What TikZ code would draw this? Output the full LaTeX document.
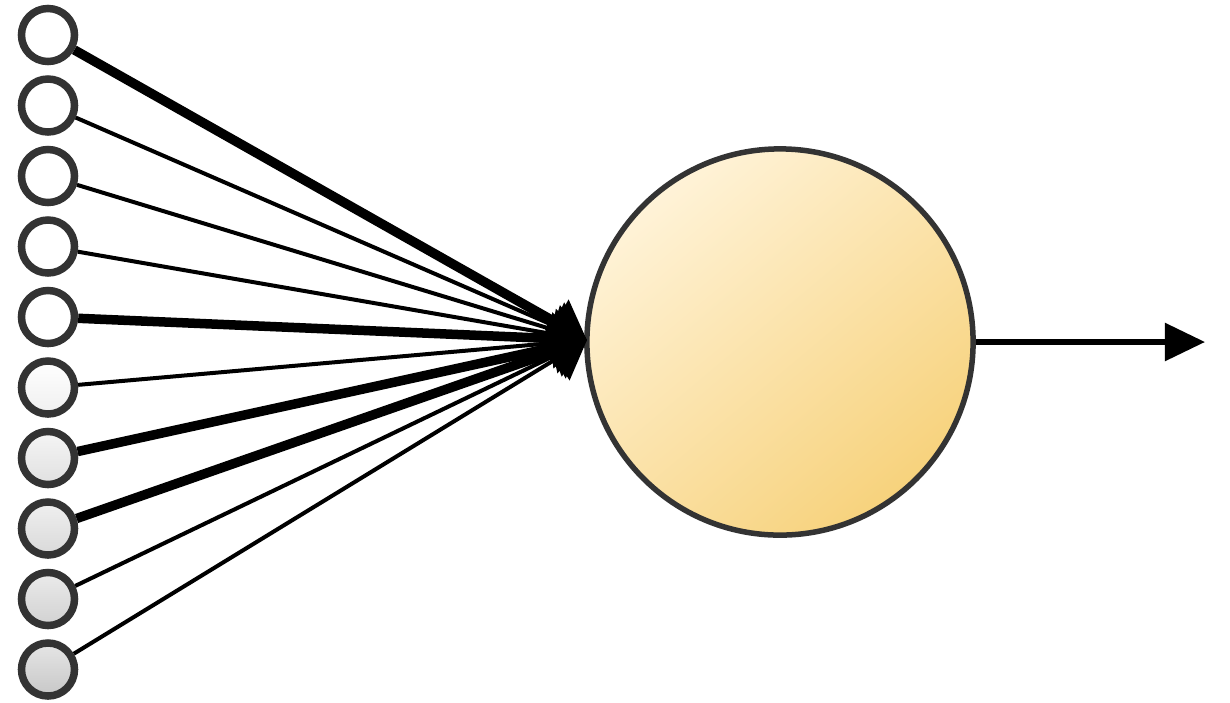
\documentclass[tikz,border=0pt]{standalone}
\usetikzlibrary{arrows.meta}
\definecolor{ringgray}{HTML}{333333}
\definecolor{bodytop}{HTML}{FFF3D8}
\definecolor{bodybot}{HTML}{F7D27C}
\begin{document}
\begin{tikzpicture}[x=0.01cm,y=-0.01cm,
  inputnode/.style={circle,draw=ringgray,line width=0.075cm,minimum size=0.53cm,inner sep=0pt},
  thinlink/.style={line width=0.04cm,-{Triangle[length=0.36cm,width=0.5cm]}},
  thicklink/.style={line width=0.095cm,-{Triangle[length=0.36cm,width=0.5cm]}},
  neuron/.style={circle,draw=ringgray,line width=0.055cm,minimum size=3.86cm,inner sep=0pt,
    top color=bodytop,bottom color=bodybot,shading angle=40},
  outarrow/.style={line width=0.055cm,-{Triangle[length=0.4cm,width=0.37cm]}}]
\useasboundingbox (0,0) rectangle (1230,702);
\fill[white] (0,0) rectangle (1230,702);
\node[inputnode,fill=white] (i1) at (48,35) {};
\node[inputnode,fill=white] (i2) at (48,105.5) {};
\node[inputnode,fill=white] (i3) at (48,176) {};
\node[inputnode,fill=white] (i4) at (48,246.5) {};
\node[inputnode,fill=white] (i5) at (48,317) {};
\node[inputnode,top color=white,bottom color=black!6] (i6) at (48,387.5) {};
\node[inputnode,top color=black!4,bottom color=black!12] (i7) at (48,458) {};
\node[inputnode,top color=black!6,bottom color=black!15] (i8) at (48,528.5) {};
\node[inputnode,top color=black!8,bottom color=black!18] (i9) at (48,599) {};
\node[inputnode,top color=black!10,bottom color=black!22] (i10) at (48,669.5) {};
\coordinate (hub) at (587,340);
\node[neuron] (n) at (780,342) {};
\coordinate (out) at (1205,342);
\draw[thicklink] (i1) -- (hub);
\draw[thinlink] (i2) -- (hub);
\draw[thinlink] (i3) -- (hub);
\draw[thinlink] (i4) -- (hub);
\draw[thicklink] (i5) -- (hub);
\draw[thinlink] (i6) -- (hub);
\draw[thicklink] (i7) -- (hub);
\draw[thicklink] (i8) -- (hub);
\draw[thinlink] (i9) -- (hub);
\draw[thinlink] (i10) -- (hub);
\draw[outarrow] (n.east) -- (out);
\end{tikzpicture}
\end{document}
